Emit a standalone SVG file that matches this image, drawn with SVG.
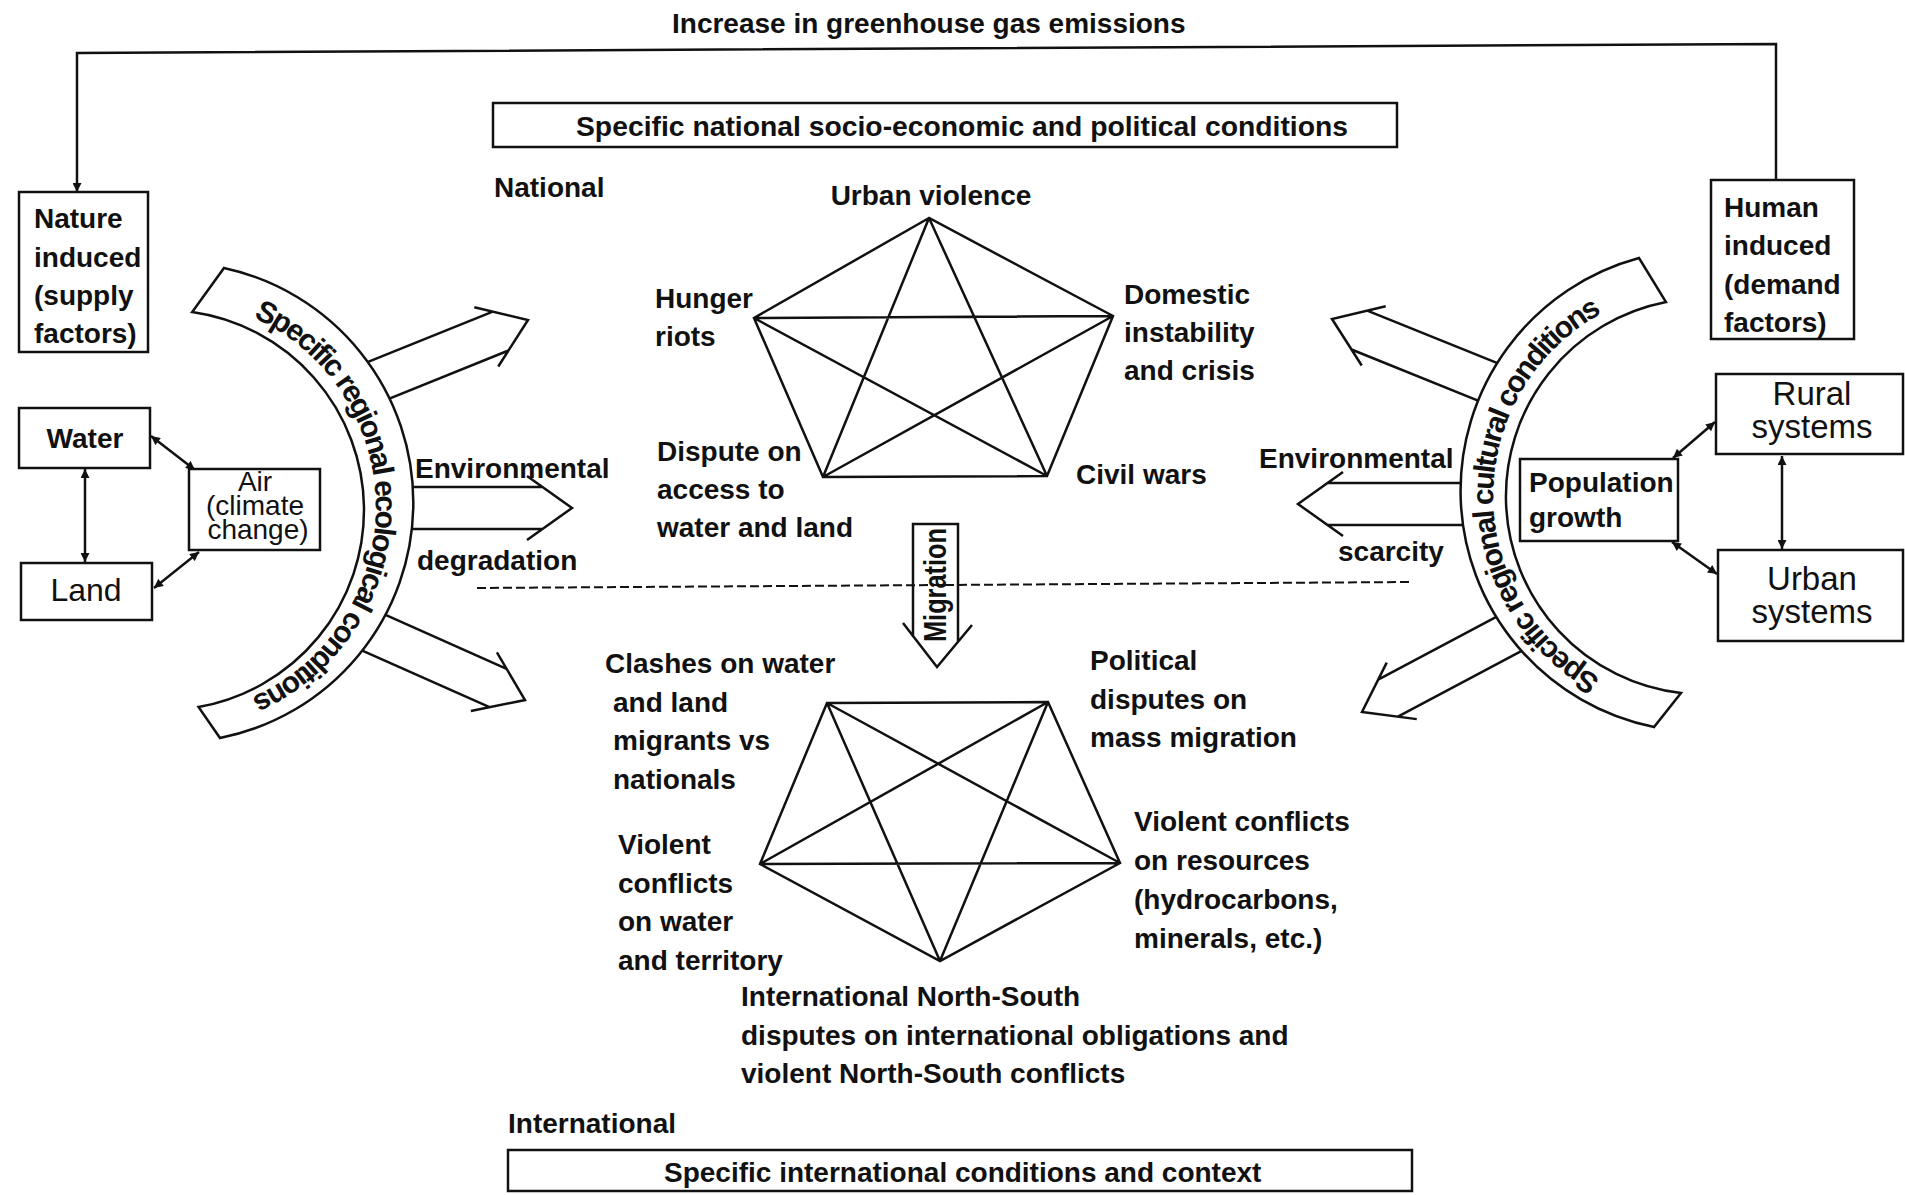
<svg xmlns="http://www.w3.org/2000/svg" width="1905" height="1195" viewBox="0 0 1905 1195">
<defs>
<style>
.b{font-family:"Liberation Sans",Arial,sans-serif;font-weight:bold;font-size:28px;fill:#111}
.r{font-family:"Liberation Sans",Arial,sans-serif;font-size:32px;fill:#111}
.arc{font-family:"Liberation Sans",Arial,sans-serif;font-weight:bold;font-size:30px;letter-spacing:-2px;fill:#111}
.ln{stroke:#111;stroke-width:2.5;fill:none;stroke-linejoin:miter}
.box{fill:#fff;stroke:#111;stroke-width:2.5}
.dash{stroke:#111;stroke-width:2;fill:none;stroke-dasharray:9 4}
.mid{text-anchor:middle}
</style>
<marker id="ah" viewBox="0 0 10 10" refX="10" refY="5" markerWidth="11" markerHeight="9" markerUnits="userSpaceOnUse" orient="auto-start-reverse">
<path d="M0,0 L10,5 L0,10 z" fill="#111"/>
</marker>
<path id="lp" d="M204.1,302.2 A208,208 0 0,1 204.1,711.8"/>
<path id="rp" d="M1664.9,700.8 A208,208 0 0,1 1664.9,291.2"/>
</defs>
<rect width="1905" height="1195" fill="#fff"/>

<g id="connectors">
  <polyline class="ln" points="1776,180 1776,44 77,53 77,192" marker-end="url(#ah)"/>
  <line class="ln" x1="85" y1="469" x2="85" y2="562" marker-start="url(#ah)" marker-end="url(#ah)"/>
  <line class="ln" x1="151" y1="436" x2="195" y2="470" marker-start="url(#ah)" marker-end="url(#ah)"/>
  <line class="ln" x1="154" y1="588" x2="199" y2="552" marker-start="url(#ah)" marker-end="url(#ah)"/>
  <line class="ln" x1="1673" y1="458" x2="1715" y2="422" marker-start="url(#ah)" marker-end="url(#ah)"/>
  <line class="ln" x1="1672" y1="542" x2="1717" y2="574" marker-start="url(#ah)" marker-end="url(#ah)"/>
  <line class="ln" x1="1782" y1="456" x2="1782" y2="549" marker-start="url(#ah)" marker-end="url(#ah)"/>
  <path class="ln" d="M929,218 L754,318 L823,477 L1047,476 L1113,316 Z M929,218 L823,477 M929,218 L1047,476 M754,318 L1113,316 M754,318 L1047,476 M1113,316 L823,477"/>
  <path class="ln" d="M827,703 L1048,702 L1120,863 L940,961 L760,864 Z M827,703 L1120,863 M827,703 L940,961 M1048,702 L760,864 M1048,702 L940,961 M760,864 L1120,863"/>
  <path class="dash" d="M477,588 L1412,582"/>
  <path class="ln" transform="translate(528,320) rotate(-22)" d="M-170,-21 H-29.5 M-170,21 H-29.5 M-45,-32 L0,0 L-45,32"/>
  <path class="ln" transform="translate(572,508)" d="M-180,-21 H-29.5 M-180,21 H-29.5 M-45,-32 L0,0 L-45,32"/>
  <path class="ln" transform="translate(525,700) rotate(24)" d="M-170,-21 H-29.5 M-170,21 H-29.5 M-45,-32 L0,0 L-45,32"/>
  <path class="ln" transform="translate(1332,319) rotate(202)" d="M-180,-21 H-29.5 M-180,21 H-29.5 M-45,-32 L0,0 L-45,32"/>
  <path class="ln" transform="translate(1298,504) rotate(180)" d="M-185,-21 H-29.5 M-185,21 H-29.5 M-45,-32 L0,0 L-45,32"/>
  <path class="ln" transform="translate(1362,712) rotate(152)" d="M-175,-21 H-29.5 M-175,21 H-29.5 M-45,-32 L0,0 L-45,32"/>
</g>

<g id="title"><text class="b" x="672" y="33">Increase in greenhouse gas emissions</text></g>

<g id="nature">
  <rect class="box" x="19" y="192" width="129" height="160"/>
  <text class="b" x="34" y="228">Nature</text>
  <text class="b" x="34" y="267">induced</text>
  <text class="b" x="34" y="305">(supply</text>
  <text class="b" x="34" y="343">factors)</text>
</g>
<g id="human">
  <rect class="box" x="1711" y="180" width="143" height="159"/>
  <text class="b" x="1724" y="217">Human</text>
  <text class="b" x="1724" y="255">induced</text>
  <text class="b" x="1724" y="294">(demand</text>
  <text class="b" x="1724" y="332">factors)</text>
</g>
<g id="water">
  <rect class="box" x="19" y="408" width="131" height="60"/>
  <text class="b mid" x="85" y="448">Water</text>
</g>
<g id="land">
  <rect class="box" x="21" y="563" width="131" height="57"/>
  <text class="r mid" x="86" y="601">Land</text>
</g>
<g id="air">
  <rect class="box" x="189" y="469" width="131" height="81"/>
  <text class="r mid" x="255" y="491" style="font-size:28px">Air</text>
  <text class="r mid" x="255" y="515" style="font-size:28px">(climate</text>
  <text class="r mid" x="258" y="539" style="font-size:28px">change)</text>
</g>
<g id="population">
  <rect class="box" x="1520" y="459" width="158" height="82"/>
  <text class="b" x="1529" y="492">Population</text>
  <text class="b" x="1529" y="527">growth</text>
</g>
<g id="rural">
  <rect class="box" x="1716" y="374" width="187" height="80"/>
  <text class="r mid" x="1812" y="405" style="font-size:33px">Rural</text>
  <text class="r mid" x="1812" y="438" style="font-size:33px">systems</text>
</g>
<g id="urban">
  <rect class="box" x="1718" y="550" width="185" height="91"/>
  <text class="r mid" x="1812" y="590" style="font-size:33px">Urban</text>
  <text class="r mid" x="1812" y="623" style="font-size:33px">systems</text>
</g>

<g id="ecological-band">
  <path class="box" d="M224,268 A240,240 0 0,1 220,738 L198.5,707 A200,200 0 0,0 192.2,312 Z"/>
  <text class="arc"><textPath href="#lp" startOffset="50%" text-anchor="middle">Specific regional ecological conditions</textPath></text>
</g>
<g id="cultural-band">
  <path class="box" d="M1639,258 A241,241 0 0,0 1654,727 L1681,693 A198,198 0 0,1 1666,302 Z"/>
  <text class="arc"><textPath href="#rp" startOffset="50%" text-anchor="middle">Specific regional cultural conditions</textPath></text>
</g>

<g id="env-degradation">
  <text class="b" x="415" y="478">Environmental</text>
  <text class="b" x="417" y="570">degradation</text>
</g>
<g id="env-scarcity">
  <text class="b" x="1259" y="468">Environmental</text>
  <text class="b" x="1338" y="561">scarcity</text>
</g>

<g id="national-box">
  <rect class="box" x="493" y="103" width="904" height="44"/>
  <text class="b" x="576" y="136" textLength="772" lengthAdjust="spacingAndGlyphs">Specific national socio-economic and political conditions</text>
</g>
<g id="national-label"><text class="b" x="494" y="197">National</text></g>

<g id="urban-violence"><text class="b mid" x="931" y="205">Urban violence</text></g>
<g id="hunger-riots">
  <text class="b" x="655" y="308">Hunger</text>
  <text class="b" x="655" y="346">riots</text>
</g>
<g id="domestic">
  <text class="b" x="1124" y="304">Domestic</text>
  <text class="b" x="1124" y="342">instability</text>
  <text class="b" x="1124" y="380">and crisis</text>
</g>
<g id="dispute">
  <text class="b" x="657" y="461">Dispute on</text>
  <text class="b" x="657" y="499">access to</text>
  <text class="b" x="657" y="537">water and land</text>
</g>
<g id="civil-wars"><text class="b" x="1076" y="484">Civil wars</text></g>

<g id="migration">
  <path class="ln" d="M913,637 V524 H958 V642 M903,623 L937,667 L972,625"/>
  <text class="b mid" transform="translate(946,585) rotate(-90)" style="font-size:31px" textLength="114" lengthAdjust="spacingAndGlyphs">Migration</text>
</g>

<g id="clashes">
  <text class="b" x="605" y="673">Clashes on water</text>
  <text class="b" x="613" y="712">and land</text>
  <text class="b" x="613" y="750">migrants vs</text>
  <text class="b" x="613" y="789">nationals</text>
</g>
<g id="political">
  <text class="b" x="1090" y="670">Political</text>
  <text class="b" x="1090" y="709">disputes on</text>
  <text class="b" x="1090" y="747">mass migration</text>
</g>
<g id="violent-territory">
  <text class="b" x="618" y="854">Violent</text>
  <text class="b" x="618" y="893">conflicts</text>
  <text class="b" x="618" y="931">on water</text>
  <text class="b" x="618" y="970">and territory</text>
</g>
<g id="violent-resources">
  <text class="b" x="1134" y="831">Violent conflicts</text>
  <text class="b" x="1134" y="870">on resources</text>
  <text class="b" x="1134" y="909">(hydrocarbons,</text>
  <text class="b" x="1134" y="948">minerals, etc.)</text>
</g>
<g id="north-south">
  <text class="b" x="741" y="1006">International North-South</text>
  <text class="b" x="741" y="1045">disputes on international obligations and</text>
  <text class="b" x="741" y="1083">violent North-South conflicts</text>
</g>

<g id="international-label"><text class="b" x="508" y="1133">International</text></g>
<g id="international-box">
  <rect class="box" x="508" y="1150" width="904" height="41"/>
  <text class="b" x="664" y="1182">Specific international conditions and context</text>
</g>
</svg>
